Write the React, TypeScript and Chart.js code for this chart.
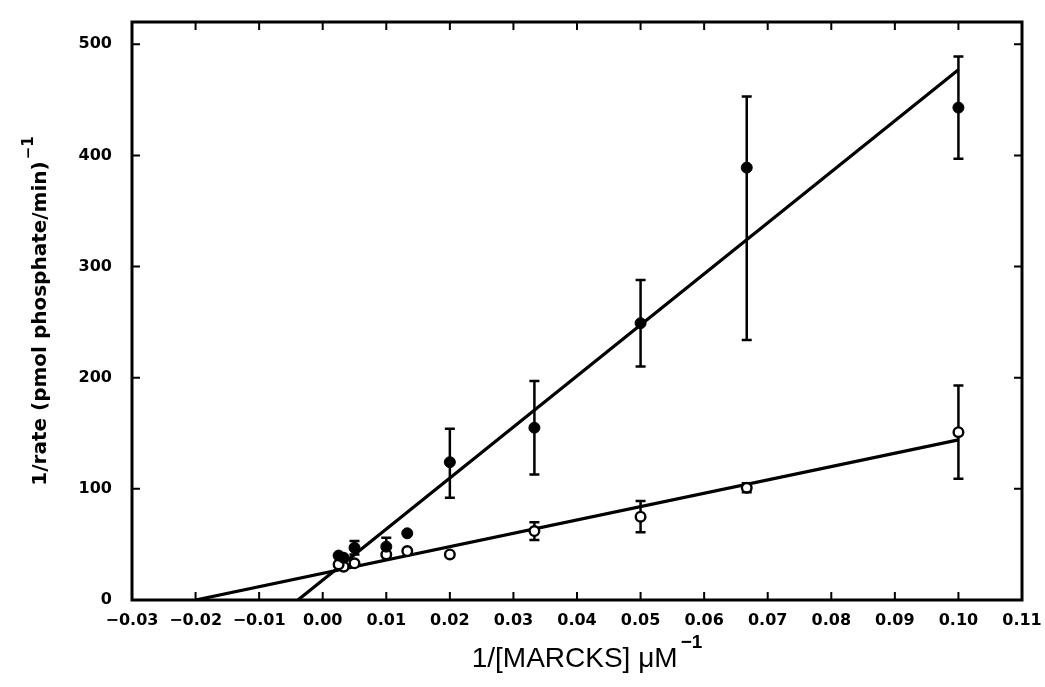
import React, { useEffect, useRef } from "react";
import { Chart, registerables } from "chart.js";

Chart.register(...registerables);

// ---- data ----
const xTickValues = [-0.03, -0.02, -0.01, 0.0, 0.01, 0.02, 0.03, 0.04, 0.05, 0.06, 0.07, 0.08, 0.09, 0.1, 0.11];
const yTickValues = [0, 100, 200, 300, 400, 500];

const inverseConc = [0.1, 0.0667, 0.05, 0.0333, 0.02, 0.0133, 0.01, 0.005, 0.0033, 0.0025];

const filledRate = [443, 389, 249, 155, 124, 60, 48, 47, 38, 40];
const filledErrUp = [46, 64, 39, 42, 30, 0, 8, 6, 0, 0];
const filledErrDown = [46, 155, 39, 42, 32, 0, 8, 6, 0, 0];

const openRate = [151, 101, 75, 62, 41, 44, 41, 33, 30, 32];
const openErrUp = [42, 4, 14, 8, 0, 0, 0, 0, 0, 0];
const openErrDown = [42, 4, 14, 8, 0, 0, 0, 0, 0, 0];

const fitFilledX = [-0.0039, 0.1];
const fitFilledY = [0, 477];
const fitOpenX = [-0.02, 0.1];
const fitOpenY = [0, 144];

const xTitleMain = "1/[MARCKS] \u03BCM";
const xTitleSup = "\u22121";
const yTitleMain = "1/rate (pmol phosphate/min)";
const yTitleSup = "\u22121";

const errorSets = [
  { up: filledErrUp, down: filledErrDown },
  { up: openErrUp, down: openErrDown },
];

const fmtX = (v: number) => {
  const s = Math.abs(v).toFixed(2);
  return v < -1e-9 ? "\u2212" + s : s;
};

const errorBarPlugin = {
  id: "errorBars",
  beforeDatasetsDraw(chart: any) {
    const { ctx, scales } = chart;
    const x = scales.x;
    const y = scales.y;
    ctx.save();
    ctx.strokeStyle = "#000";
    ctx.lineWidth = 2.5;
    const cap = 5;
    errorSets.forEach((e, di) => {
      const ds = chart.data.datasets[di];
      ds.data.forEach((p: any, i: number) => {
        const up = e.up[i];
        const dn = e.down[i];
        if (!up && !dn) return;
        const px = x.getPixelForValue(p.x);
        const yTop = y.getPixelForValue(p.y + up);
        const yBot = y.getPixelForValue(p.y - dn);
        ctx.beginPath();
        ctx.moveTo(px, yTop);
        ctx.lineTo(px, yBot);
        ctx.moveTo(px - cap, yTop);
        ctx.lineTo(px + cap, yTop);
        ctx.moveTo(px - cap, yBot);
        ctx.lineTo(px + cap, yBot);
        ctx.stroke();
      });
    });
    ctx.restore();
  },
};

const framePlugin = {
  id: "frame",
  afterDraw(chart: any) {
    const { ctx, chartArea, scales } = chart;
    const { left, right, top, bottom } = chartArea;
    const x = scales.x;
    const y = scales.y;
    ctx.save();
    ctx.strokeStyle = "#000";
    ctx.lineWidth = 3;
    ctx.strokeRect(left, top, right - left, bottom - top);
    ctx.lineWidth = 2;
    const tl = 8;
    ctx.beginPath();
    xTickValues.forEach((v) => {
      const px = x.getPixelForValue(v);
      ctx.moveTo(px, bottom);
      ctx.lineTo(px, bottom - tl);
      ctx.moveTo(px, top);
      ctx.lineTo(px, top + tl);
    });
    yTickValues.forEach((v) => {
      const py = y.getPixelForValue(v);
      ctx.moveTo(left, py);
      ctx.lineTo(left + tl, py);
      ctx.moveTo(right, py);
      ctx.lineTo(right - tl, py);
    });
    ctx.stroke();

    // axis titles with real superscripts
    ctx.fillStyle = "#000";
    ctx.textBaseline = "alphabetic";
    ctx.textAlign = "left";
    // x title
    const xMainFont = "28px 'Liberation Sans', sans-serif";
    const xSupFont = "bold 19px 'Liberation Sans', sans-serif";
    ctx.font = xMainFont;
    const wMain = ctx.measureText(xTitleMain).width;
    ctx.font = xSupFont;
    const wSup = ctx.measureText(xTitleSup).width;
    const cx = (left + right) / 2 + 10;
    const startX = cx - (wMain + wSup + 3) / 2;
    const baseY = 667;
    ctx.font = xMainFont;
    ctx.fillText(xTitleMain, startX, baseY);
    ctx.font = xSupFont;
    ctx.fillText(xTitleSup, startX + wMain + 3, baseY - 19);

    // y title (rotated)
    ctx.save();
    ctx.translate(46, (top + bottom) / 2);
    ctx.rotate(-Math.PI / 2);
    const yMainFont = "bold 20px 'DejaVu Sans', sans-serif";
    const ySupFont = "bold 15px 'DejaVu Sans', sans-serif";
    ctx.font = yMainFont;
    const ywMain = ctx.measureText(yTitleMain).width;
    ctx.font = ySupFont;
    const ywSup = ctx.measureText(yTitleSup).width;
    const ys = -(ywMain + ywSup + 2) / 2;
    ctx.font = yMainFont;
    ctx.fillText(yTitleMain, ys, 0);
    ctx.font = ySupFont;
    ctx.fillText(yTitleSup, ys + ywMain + 2, -13);
    ctx.restore();

    ctx.restore();
  },
};

export default function App() {
  const canvasRef = useRef<HTMLCanvasElement | null>(null);

  useEffect(() => {
    document.body.style.margin = "0";
    const canvas = canvasRef.current;
    if (!canvas) return;
    const chart = new Chart(canvas, {
      type: "scatter",
      data: {
        datasets: [
          {
            label: "filled",
            data: inverseConc.map((v, i) => ({ x: v, y: filledRate[i] })),
            pointRadius: 5.5,
            pointBackgroundColor: "#000",
            pointBorderColor: "#000",
            pointBorderWidth: 1,
            showLine: false,
          },
          {
            label: "open",
            data: inverseConc.map((v, i) => ({ x: v, y: openRate[i] })),
            pointRadius: 4.8,
            pointBackgroundColor: "#fff",
            pointBorderColor: "#000",
            pointBorderWidth: 2.4,
            showLine: false,
          },
          {
            label: "fit filled",
            type: "line",
            data: fitFilledX.map((v, i) => ({ x: v, y: fitFilledY[i] })),
            borderColor: "#000",
            borderWidth: 3.2,
            pointRadius: 0,
            fill: false,
          },
          {
            label: "fit open",
            type: "line",
            data: fitOpenX.map((v, i) => ({ x: v, y: fitOpenY[i] })),
            borderColor: "#000",
            borderWidth: 3.2,
            pointRadius: 0,
            fill: false,
          },
        ] as any,
      },
      options: {
        responsive: false,
        animation: false,
        devicePixelRatio: 1,
        layout: { padding: { top: 22, right: 23, left: 0, bottom: 0 } },
        plugins: { legend: { display: false }, tooltip: { enabled: false } },
        scales: {
          x: {
            type: "linear",
            min: -0.03,
            max: 0.11,
            grid: { display: false },
            border: { display: false },
            afterBuildTicks: (scale: any) => {
              scale.ticks = xTickValues.map((v) => ({ value: v }));
            },
            afterFit: (scale: any) => {
              scale.height = 87;
            },
            ticks: {
              autoSkip: false,
              maxRotation: 0,
              padding: 3,
              color: "#000",
              font: { family: "DejaVu Sans", weight: "bold", size: 16 },
              callback: (v: any) => fmtX(Number(v)),
            },
            title: { display: false },
          },
          y: {
            type: "linear",
            min: 0,
            max: 520,
            grid: { display: false },
            border: { display: false },
            afterBuildTicks: (scale: any) => {
              scale.ticks = yTickValues.map((v) => ({ value: v }));
            },
            afterFit: (scale: any) => {
              scale.width = 132;
            },
            ticks: {
              padding: 12,
              color: "#000",
              font: { family: "DejaVu Sans", weight: "bold", size: 16 },
            },
            title: { display: false },
          },
        },
      },
      plugins: [errorBarPlugin, framePlugin],
    });
    return () => chart.destroy();
  }, []);

  return (
    <div style={{ width: 1045, height: 687, background: "#fff" }}>
      <canvas ref={canvasRef} width={1045} height={687} />
    </div>
  );
}
